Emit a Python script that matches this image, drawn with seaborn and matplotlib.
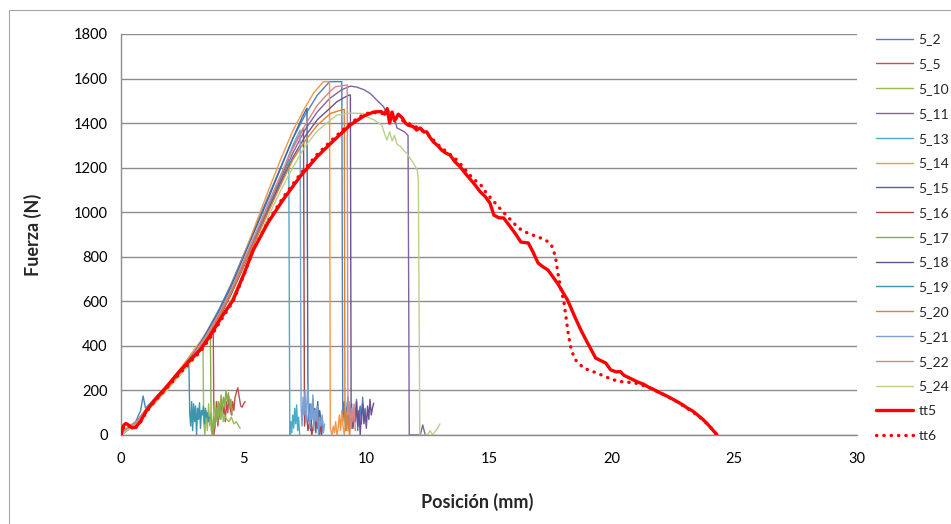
import matplotlib
matplotlib.use("Agg")
import matplotlib.pyplot as plt
import seaborn as sns
from matplotlib.patches import Rectangle

# ---- test curves: (posición mm, fuerza N) ----
s5_2 = [(0, 0), (0.3, 35), (0.6, 60), (0.8, 110), (0.9, 175), (1.0, 120), (1.5, 180), (2.0, 235),
        (2.5, 300), (3.0, 375), (3.5, 465), (4.0, 565), (4.5, 680), (5.0, 810), (5.5, 940),
        (6.0, 1070), (6.5, 1200), (7.0, 1330), (7.5, 1435), (8.0, 1525), (8.5, 1586), (9.0, 1586),
        (9.04, 60), (9.1, 150), (9.15, 20), (9.2, 120), (9.25, 170), (9.3, 40), (9.35, 90),
        (9.4, 140), (9.45, 30), (9.5, 110), (9.55, 60), (9.6, 160), (9.65, 20), (9.7, 100),
        (9.75, 130), (9.8, 50), (9.85, 170), (9.9, 80), (9.95, 120), (10.0, 60)]

s5_5 = [(0, 0), (0.3, 30), (0.6, 55), (1.0, 105), (1.5, 168), (2.0, 230), (2.5, 295), (3.0, 365),
        (3.5, 440), (3.76, 480), (3.79, 0), (3.85, 60), (3.9, 150), (3.95, 40), (4.0, 120),
        (4.05, 70), (4.1, 160), (4.15, 90), (4.2, 130), (4.25, 60), (4.3, 150), (4.35, 100),
        (4.4, 170), (4.45, 120), (4.5, 90), (4.55, 150), (4.6, 110), (4.65, 170), (4.7, 190),
        (4.76, 212), (4.82, 170), (4.88, 130), (4.94, 125), (5.0, 140), (5.06, 150)]

s5_10 = [(0, 0), (0.3, 35), (0.6, 55), (1.0, 110), (1.5, 170), (2.0, 232), (2.5, 298), (3.0, 362),
         (3.34, 415), (3.37, 60), (3.42, 0), (3.47, 110), (3.52, 20), (3.57, 140), (3.62, 40),
         (3.67, 100), (3.72, 0), (3.77, 90), (3.82, 150), (3.87, 60), (3.92, 120), (3.97, 80),
         (4.02, 140), (4.07, 70), (4.12, 110), (4.17, 60), (4.22, 90), (4.3, 70), (4.4, 60),
         (4.5, 80), (4.6, 50), (4.7, 60), (4.8, 40), (4.86, 30)]

s5_11 = [(0, 0), (0.3, 25), (0.6, 50), (1.0, 100), (1.5, 160), (2.0, 220), (2.5, 285), (3.0, 355),
         (3.5, 435), (4.0, 525), (4.5, 635), (5.0, 760), (5.5, 885), (6.0, 1010), (6.5, 1140),
         (7.0, 1265), (7.5, 1370), (8.0, 1450), (8.5, 1510), (9.0, 1550), (9.35, 1566),
         (9.6, 1562), (9.9, 1550), (10.16, 1533), (10.43, 1503), (10.6, 1485), (10.7, 1474),
         (10.8, 1450), (10.9, 1460), (11.0, 1440), (11.1, 1420), (11.2, 1400), (11.25, 1378),
         (11.4, 1370), (11.55, 1361), (11.7, 1345), (11.75, 0), (12.2, 0), (12.3, 45), (12.4, 0),
         (12.5, 0)]

s5_13 = [(0, 0), (0.3, 30), (0.6, 55), (1.0, 105), (1.5, 165), (2.0, 225), (2.5, 290), (3.0, 362),
         (3.5, 445), (4.0, 540), (4.5, 650), (5.0, 775), (5.5, 900), (6.0, 1025), (6.5, 1150),
         (6.84, 1234), (6.88, 0), (6.92, 60), (6.96, 10), (7.0, 90), (7.04, 30), (7.08, 120),
         (7.12, 50), (7.16, 135), (7.2, 20), (7.24, 80), (7.28, 0)]

s5_14 = [(0, 0), (0.3, 40), (0.6, 55), (1.0, 115), (1.5, 175), (2.0, 240), (2.5, 310), (3.0, 385),
         (3.5, 460), (4.0, 550), (4.5, 670), (5.0, 805), (5.5, 950), (6.0, 1095), (6.5, 1235),
         (7.0, 1365), (7.5, 1470), (7.85, 1535), (8.25, 1586), (8.5, 1586), (8.53, 30), (8.6, 0),
         (8.65, 40), (8.7, 10), (8.75, 60), (8.8, 0), (8.85, 30), (8.9, 90), (8.95, 20),
         (9.0, 110), (9.05, 40), (9.1, 0), (9.15, 50), (9.2, 100), (9.25, 20)]

s5_15 = [(0, 0), (0.3, 30), (0.6, 55), (1.0, 110), (1.5, 170), (2.0, 232), (2.5, 298), (3.0, 372),
         (3.5, 460), (4.0, 555), (4.5, 670), (5.0, 800), (5.5, 930), (6.0, 1060), (6.5, 1195),
         (7.0, 1330), (7.4, 1430), (7.58, 1467), (7.62, 180), (7.66, 60), (7.7, 140), (7.74, 20),
         (7.78, 100), (7.82, 160), (7.86, 50), (7.9, 120), (7.94, 10), (7.98, 90), (8.02, 150),
         (8.06, 40), (8.1, 110), (8.14, 70), (8.18, 0), (8.22, 60)]

s5_16 = [(0, 0), (0.3, 30), (0.6, 55), (1.0, 105), (1.5, 165), (2.0, 225), (2.5, 290), (3.0, 362),
         (3.5, 445), (4.0, 540), (4.5, 650), (5.0, 775), (5.5, 900), (6.0, 1025), (6.5, 1155),
         (7.0, 1290), (7.44, 1378), (7.48, 40), (7.55, 110), (7.62, 20), (7.7, 70), (7.78, 0),
         (7.86, 60), (7.94, 100), (8.0, 30), (8.05, 80), (8.1, 0), (8.15, 40)]

s5_17 = [(0, 0), (0.3, 30), (0.6, 55), (1.0, 108), (1.5, 168), (2.0, 230), (2.5, 295), (3.0, 365),
         (3.5, 435), (3.64, 457), (3.68, 20), (3.73, 0), (3.78, 80), (3.83, 30), (3.88, 120),
         (3.93, 60), (3.98, 150), (4.03, 90), (4.08, 180), (4.13, 110), (4.18, 170), (4.23, 130),
         (4.28, 200), (4.33, 150), (4.38, 190), (4.43, 120), (4.48, 160), (4.53, 90)]

s5_18 = [(0, 0), (0.3, 25), (0.6, 50), (1.0, 100), (1.5, 160), (2.0, 222), (2.5, 285), (3.0, 355),
         (3.5, 435), (4.0, 525), (4.5, 635), (5.0, 755), (5.5, 880), (6.0, 1005), (6.5, 1130),
         (7.0, 1245), (7.5, 1340), (8.0, 1415), (8.5, 1465), (8.8, 1496), (9.1, 1515), (9.3, 1526),
         (9.35, 1526), (9.38, 100), (9.45, 30), (9.5, 120), (9.55, 60), (9.6, 150), (9.65, 40),
         (9.7, 110), (9.75, 0), (9.8, 90), (9.85, 140), (9.9, 50), (9.95, 100), (10.0, 30),
         (10.05, 130), (10.1, 70), (10.15, 160), (10.2, 90), (10.25, 120), (10.3, 143)]

s5_19 = [(0, 0), (0.3, 30), (0.6, 55), (1.0, 105), (1.5, 165), (2.0, 225), (2.5, 285), (2.77, 310),
         (2.8, 100), (2.84, 40), (2.88, 150), (2.92, 20), (2.96, 140), (3.0, 60), (3.04, 130),
         (3.08, 0), (3.12, 120), (3.16, 70), (3.2, 145), (3.24, 30), (3.28, 110), (3.32, 90),
         (3.36, 130), (3.4, 50), (3.44, 120), (3.48, 80), (3.52, 100), (3.56, 60), (3.6, 80)]

s5_20 = [(0, 0), (0.3, 30), (0.6, 50), (1.0, 105), (1.5, 165), (2.0, 225), (2.5, 290), (3.0, 360),
         (3.5, 440), (4.0, 530), (4.5, 640), (5.0, 760), (5.5, 880), (6.0, 1000), (6.5, 1120),
         (7.0, 1235), (7.5, 1320), (8.0, 1390), (8.53, 1443), (8.98, 1459), (9.1, 1462),
         (9.13, 80), (9.18, 20), (9.22, 110), (9.27, 40), (9.32, 0), (9.36, 70), (9.4, 30)]

s5_21 = [(0, 0), (0.3, 30), (0.6, 55), (1.0, 105), (1.5, 165), (2.0, 228), (2.5, 292), (3.0, 365),
         (3.5, 450), (4.0, 545), (4.5, 655), (5.0, 780), (5.5, 905), (6.0, 1030), (6.5, 1160),
         (7.0, 1300), (7.3, 1369), (7.34, 130), (7.38, 40), (7.42, 170), (7.46, 90), (7.5, 200),
         (7.54, 60), (7.58, 150), (7.62, 230), (7.66, 100), (7.7, 30), (7.74, 140), (7.78, 70),
         (7.82, 180), (7.86, 20), (7.9, 110), (7.95, 60), (8.0, 130), (8.05, 0), (8.1, 80),
         (8.15, 40), (8.2, 90), (8.25, 10), (8.3, 50)]

s5_22 = [(0, 0), (0.3, 30), (0.6, 55), (1.0, 110), (1.5, 170), (2.0, 230), (2.5, 295), (3.0, 370),
         (3.5, 450), (4.0, 545), (4.5, 655), (5.0, 780), (5.5, 910), (6.0, 1040), (6.5, 1165),
         (7.0, 1285), (7.5, 1390), (8.0, 1480), (8.5, 1540), (8.74, 1563), (9.18, 1571),
         (9.22, 1571), (9.25, 90), (9.3, 150), (9.35, 30), (9.4, 120), (9.45, 60), (9.5, 140),
         (9.55, 20)]

s5_24 = [(0, 0), (0.3, 25), (0.6, 45), (1.0, 95), (1.5, 155), (2.0, 215), (2.5, 280), (3.0, 345),
         (3.5, 420), (4.0, 505), (4.5, 610), (5.0, 730), (5.5, 855), (6.0, 980), (6.5, 1095),
         (7.0, 1200), (7.5, 1295), (8.0, 1365), (8.5, 1410), (8.8, 1436), (9.35, 1445),
         (9.9, 1443), (10.0, 1429), (10.3, 1415), (10.63, 1391), (10.75, 1350), (10.84, 1324),
         (10.95, 1361), (11.05, 1320), (11.15, 1345), (11.25, 1305), (11.4, 1295), (11.5, 1280),
         (11.65, 1264), (11.8, 1240), (11.92, 1220), (12.07, 1190), (12.12, 1150), (12.18, 0),
         (12.5, 0), (12.6, 20), (12.7, 0), (12.8, 15), (12.9, 30), (13.0, 50)]

tt5 = [(0, 0), (0.05, 25), (0.12, 45), (0.2, 52), (0.3, 45), (0.45, 32), (0.6, 35), (0.8, 62),
       (1.05, 112), (1.4, 160), (1.86, 217), (2.3, 275), (2.8, 335), (3.22, 381), (3.6, 440),
       (4.1, 530), (4.57, 606), (5.0, 720), (5.39, 830), (6.0, 955), (6.6, 1055), (7.3, 1160),
       (8.0, 1250), (8.7, 1325), (9.35, 1392), (9.9, 1432), (10.3, 1450), (10.6, 1452),
       (10.75, 1440), (10.85, 1465), (10.95, 1400), (11.05, 1450), (11.15, 1410), (11.3, 1440),
       (11.45, 1425), (11.6, 1400), (11.7, 1391), (11.9, 1385), (12.05, 1369), (12.2, 1378),
       (12.35, 1360), (12.46, 1361), (12.6, 1335), (12.73, 1316), (12.9, 1300), (13.07, 1279),
       (13.25, 1265), (13.41, 1257), (13.6, 1228), (13.82, 1204), (14.09, 1167), (14.3, 1140),
       (14.45, 1120), (14.64, 1092), (14.85, 1070), (15.04, 1041), (15.2, 987), (15.4, 975),
       (15.6, 974), (15.9, 930), (16.1, 900), (16.3, 866), (16.6, 862), (16.8, 820), (17.0, 772),
       (17.2, 755), (17.4, 741), (17.8, 680), (18.2, 606), (18.5, 530), (18.75, 470), (19.0, 417),
       (19.35, 345), (19.76, 323), (19.96, 292), (20.2, 283), (20.35, 285), (20.5, 268),
       (20.8, 252), (21.06, 238), (21.3, 228), (21.5, 215), (21.7, 205), (21.9, 193), (22.1, 183),
       (22.3, 172), (22.5, 160), (22.7, 148), (22.9, 135), (23.1, 120), (23.3, 108), (23.5, 90),
       (23.7, 72), (23.9, 50), (24.1, 25), (24.3, 0)]

tt6 = [(0, 0), (0.05, 20), (0.15, 40), (0.3, 42), (0.45, 30), (0.6, 33), (0.8, 58), (1.05, 105),
       (1.4, 155), (1.86, 210), (2.3, 265), (2.8, 325), (3.22, 372), (3.6, 430), (4.1, 520),
       (4.57, 600), (5.0, 715), (5.39, 830), (6.0, 960), (6.6, 1065), (7.3, 1170), (8.0, 1260),
       (8.7, 1335), (9.35, 1400), (9.9, 1440), (10.2, 1448), (10.6, 1445), (11.0, 1430),
       (11.5, 1410), (12.0, 1385), (12.5, 1350), (13.0, 1295), (13.7, 1234), (14.35, 1150),
       (14.65, 1125), (14.9, 1085), (15.5, 1010), (16.2, 929), (16.6, 905), (17.0, 889),
       (17.3, 875), (17.5, 860), (17.62, 835), (17.72, 790), (17.82, 720), (17.92, 660),
       (18.05, 600), (18.15, 520), (18.25, 440), (18.35, 385), (18.5, 340), (18.86, 300),
       (19.4, 278), (19.96, 252), (20.3, 240), (20.6, 238), (21.0, 232), (21.5, 214), (22.0, 188),
       (22.5, 160), (23.0, 126), (23.5, 88), (24.0, 40), (24.3, 0)]

labels = ["5_2", "5_5", "5_10", "5_11", "5_13", "5_14", "5_15", "5_16",
          "5_17", "5_18", "5_19", "5_20", "5_21", "5_22", "5_24"]
curves = [s5_2, s5_5, s5_10, s5_11, s5_13, s5_14, s5_15, s5_16,
          s5_17, s5_18, s5_19, s5_20, s5_21, s5_22, s5_24]
colors = ["#4F81BD", "#C0504D", "#9BBB59", "#8064A2", "#4BACC6", "#F79646", "#3C6AA6",
          "#A94441", "#8AAA4C", "#6A5290", "#3B95AD", "#E0812F", "#7BA0D4", "#D68987", "#B9D08B"]

x_ticks = [0, 5, 10, 15, 20, 25, 30]
y_ticks = [0, 200, 400, 600, 800, 1000, 1200, 1400, 1600, 1800]

sns.set_theme(style="white")
plt.rcParams["font.family"] = ["Lato", "DejaVu Sans"]

W, H = 951, 524
fig = plt.figure(figsize=(W / 100, H / 100), dpi=100)
ax = fig.add_axes([121 / W, 1 - 435 / H, (857 - 121) / W, (435 - 34) / H])

for name, pts, col in zip(labels, curves, colors):
    xs = [p[0] for p in pts]
    ys = [p[1] for p in pts]
    sns.lineplot(x=xs, y=ys, sort=False, estimator=None, color=col, lw=1.0,
                 ax=ax, label=name)

sns.lineplot(x=[p[0] for p in tt5], y=[p[1] for p in tt5], sort=False, estimator=None,
             color="#FF0000", lw=2.4, ax=ax, label="tt5", zorder=5)
sns.lineplot(x=[p[0] for p in tt6], y=[p[1] for p in tt6], sort=False, estimator=None,
             color="#FF0000", lw=2.4, linestyle=(0, (0.1, 2.1)), dash_capstyle="round",
             ax=ax, label="tt6", zorder=5)

grid_col = "#8C8C8C"
ax.set_xlim(0, 30)
ax.set_ylim(0, 1800)
ax.set_xticks(x_ticks)
ax.set_yticks(y_ticks)
ax.yaxis.grid(True, color=grid_col, lw=1.0)
ax.xaxis.grid(False)
ax.set_axisbelow(True)
for s in ["top", "right"]:
    ax.spines[s].set_visible(False)
for s in ["left", "bottom"]:
    ax.spines[s].set_color(grid_col)
    ax.spines[s].set_linewidth(1.0)
ax.tick_params(axis="both", direction="out", length=3.5, width=1.0, color=grid_col,
               labelsize=10.5, labelcolor="#000000")
ax.tick_params(axis="y", pad=6)
ax.tick_params(axis="x", pad=8.5)

ax.set_xlabel("Posición (mm)", fontsize=13, fontweight="bold", va="center")
ax.set_ylabel("Fuerza (N)", fontsize=13, fontweight="bold", va="center")
ax.xaxis.set_label_coords((477 - 121) / 736, (435 - 502) / 401)
ax.yaxis.set_label_coords((33 - 121) / 736, 0.5)

handles, labs = ax.get_legend_handles_labels()
ax.legend(handles, labs, loc="upper left", bbox_to_anchor=(876 / W, 1 - 33.5 / H),
          bbox_transform=fig.transFigure, frameon=False, fontsize=10, borderpad=0,
          borderaxespad=0, labelspacing=0.92, handlelength=2.65, handletextpad=0.4)

fig.add_artist(Rectangle((8.5 / W, -0.1), 1.2, 1 - 9.5 / H + 0.1, transform=fig.transFigure,
                         fill=False, edgecolor="#A6A6A6", lw=0.8))

fig.savefig("out.png", dpi=100)
